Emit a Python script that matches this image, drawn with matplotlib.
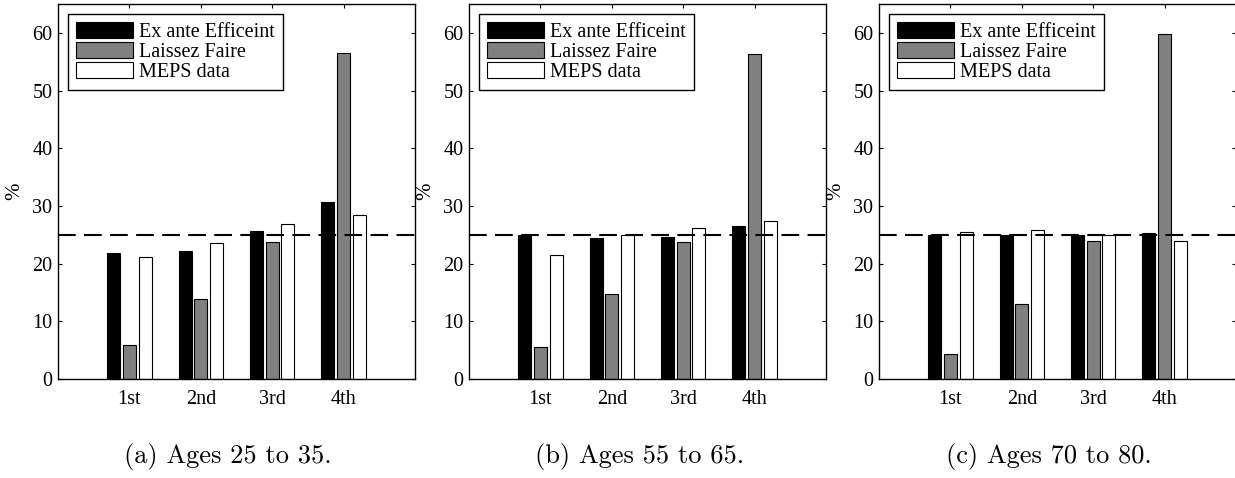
import matplotlib
matplotlib.use("Agg")
import matplotlib.pyplot as plt
import numpy as np

categories = ['1st', '2nd', '3rd', '4th']
series_names = ['Ex ante Efficeint', 'Laissez Faire', 'MEPS data']
series_colors = ['black', '#808080', 'white']

a_eff = [21.9, 22.2, 25.6, 30.7]
a_lf = [5.9, 13.95, 23.7, 56.5]
a_meps = [21.15, 23.6, 26.8, 28.5]

b_eff = [25.0, 24.5, 24.7, 26.6]
b_lf = [5.5, 14.7, 23.7, 56.4]
b_meps = [21.5, 25.0, 26.1, 27.4]

c_eff = [25.0, 25.0, 25.0, 25.3]
c_lf = [4.4, 13.0, 23.9, 59.8]
c_meps = [25.4, 25.8, 25.0, 23.9]

captions = ['(a) Ages 25 to 35.', '(b) Ages 55 to 65.', '(c) Ages 70 to 80.']
reference_level = 25
yticks = [0, 10, 20, 30, 40, 50, 60]

panels = [(a_eff, a_lf, a_meps), (b_eff, b_lf, b_meps), (c_eff, c_lf, c_meps)]

W, H = 1235, 478
fig = plt.figure(figsize=(W / 100, H / 100), dpi=100)
serif = ['Liberation Serif', 'DejaVu Serif']

lefts_px = [58, 469, 879]
ax_w_px = 357
ax_top_px, ax_bot_px = 4, 379
cap_x_px = [228, 640, 1049]

offset = 0.22
width = 0.18
x = np.arange(1, len(categories) + 1)

for i, (vals, left) in enumerate(zip(panels, lefts_px)):
    ax = fig.add_axes([left / W, 1 - ax_bot_px / H, ax_w_px / W, (ax_bot_px - ax_top_px) / H])
    for j, (v, name, col) in enumerate(zip(vals, series_names, series_colors)):
        ax.bar(x + (j - 1) * offset, v, width=width, color=col, edgecolor='black',
               linewidth=0.8, label=name, zorder=2)
    ax.axhline(reference_level, color='black', linewidth=1.5, dashes=(8.5, 4), zorder=3)
    ax.set_xlim(0, 5)
    ax.set_ylim(0, 65)
    ax.set_xticks(x)
    ax.set_xticklabels(categories, fontfamily=serif, fontsize=14.5)
    ax.set_yticks(yticks)
    ax.set_yticklabels([str(t) for t in yticks], fontfamily=serif, fontsize=14.5)
    ax.tick_params(axis='both', direction='in', top=True, right=True, length=3, width=0.8)
    ax.tick_params(axis='x', pad=8)
    ax.tick_params(axis='y', pad=4)
    for s in ax.spines.values():
        s.set_linewidth(1.0)
    ax.set_ylabel('%', fontfamily=serif, fontsize=15, labelpad=6)
    leg = ax.legend(loc='upper left', bbox_to_anchor=(10 / ax_w_px, 1 - 10 / (ax_bot_px - ax_top_px)),
                    borderaxespad=0, fancybox=False, framealpha=1, edgecolor='black',
                    prop={'family': serif, 'size': 14.5}, handlelength=2.85, handleheight=0.85,
                    handletextpad=0.3, labelspacing=0.0, borderpad=0.4)
    leg.get_frame().set_linewidth(1.0)
    fig.text(cap_x_px[i] / W, 1 - 457 / H, captions[i], ha='center', va='center',
             fontfamily='cmr10', fontsize=19)

fig.savefig('out.png', dpi=100)
